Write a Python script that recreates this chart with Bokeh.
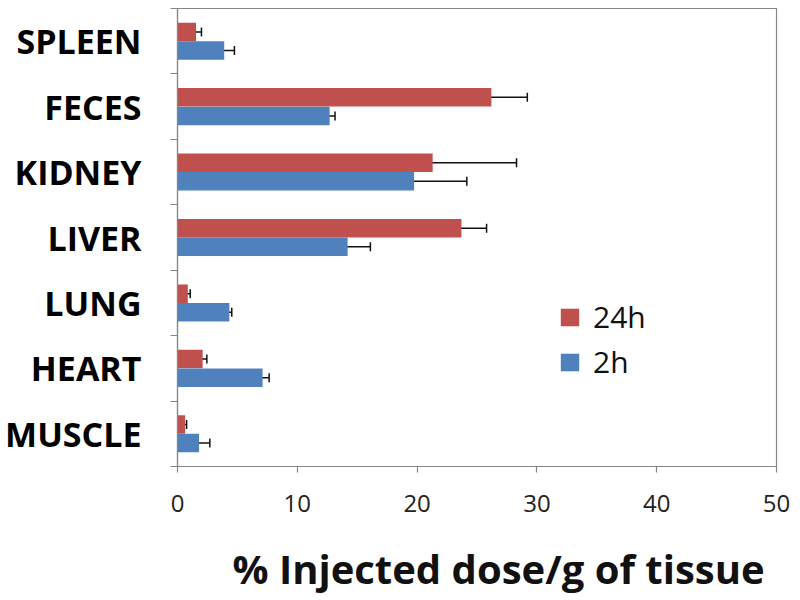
from bokeh.plotting import figure
from bokeh.models import (ColumnDataSource, Range1d, LinearAxis, FixedTicker, Whisker, TeeHead,
                          Legend, LegendItem, Title)
from bokeh.embed import file_html
from bokeh.resources import INLINE

organs = ["SPLEEN", "FECES", "KIDNEY", "LIVER", "LUNG", "HEART", "MUSCLE"]
h24 = [1.55, 26.2, 21.3, 23.7, 0.86, 2.1, 0.64]
h24_err = [0.45, 3.0, 7.0, 2.1, 0.2, 0.35, 0.12]
h2 = [3.9, 12.7, 19.75, 14.2, 4.33, 7.1, 1.8]
h2_err = [0.85, 0.45, 4.4, 1.9, 0.2, 0.55, 0.9]
x_ticks = [0, 10, 20, 30, 40, 50]
series_labels = ["24h", "2h"]
x_label = "% Injected dose/g of tissue"

RED = "#C0504D"
BLUE = "#4F81BD"
AX = "#868686"
FONT = "Open Sans"

n = len(organs)
off = 0.142
bh = 0.283
# category slot centres, first category at the top
pos = [n - 0.5 - i for i in range(n)]

src = ColumnDataSource(dict(
    organ=organs, h24=h24, h2=h2,
    y24=[c + off for c in pos], y2=[c - off for c in pos],
    h24_lo=[v - e for v, e in zip(h24, h24_err)], h24_hi=[v + e for v, e in zip(h24, h24_err)],
    h2_lo=[v - e for v, e in zip(h2, h2_err)], h2_hi=[v + e for v, e in zip(h2, h2_err)],
))

p = figure(width=800, height=600, output_backend="svg", toolbar_location=None,
           y_range=Range1d(0, n), x_range=Range1d(0, 50),
           x_axis_location=None, y_axis_location=None,
           min_border_left=177, min_border_right=24, min_border_top=8, min_border_bottom=134)
p.grid.visible = False
p.outline_line_color = AX
p.outline_line_width = 1.2

yaxis = LinearAxis(ticker=FixedTicker(ticks=pos, minor_ticks=list(range(n + 1))),
                   major_label_overrides={c: name for c, name in zip(pos, organs)},
                   axis_line_color=AX, axis_line_width=1.2,
                   major_tick_line_color=None, major_tick_out=0, major_tick_in=0,
                   minor_tick_line_color=AX, minor_tick_out=7, minor_tick_in=0, minor_tick_line_width=1.2,
                   major_label_standoff=29, major_label_text_font=FONT,
                   major_label_text_font_style="bold", major_label_text_font_size="34px",
                   major_label_text_color="#000000")
p.add_layout(yaxis, "left")

xaxis = LinearAxis(ticker=FixedTicker(ticks=x_ticks), axis_line_color=AX, axis_line_width=1.2,
                   major_tick_line_color=AX, major_tick_out=6, major_tick_in=0, major_tick_line_width=1.2,
                   minor_tick_line_color=None,
                   major_label_text_font=FONT, major_label_text_font_size="24px",
                   major_label_text_color="#222222", major_label_standoff=22)
p.add_layout(xaxis, "below")

# invisible spacer panel between tick labels and the axis title
spacer = LinearAxis(ticker=FixedTicker(ticks=[25]), major_label_overrides={25: ""},
                    axis_line_color=None, major_tick_line_color=None,
                    minor_tick_line_color=None, major_tick_out=24, major_tick_in=0, minor_tick_out=0,
                    major_label_standoff=0, major_label_text_font_size="0px")
p.add_layout(spacer, "below")

xtitle = Title(text=x_label, align="left", offset=55, standoff=0,
               text_font=FONT, text_font_style="bold", text_font_size="40px", text_color="#111111")
p.add_layout(xtitle, "below")

r24 = p.hbar(y="y24", left=0, right="h24", height=bh, fill_color=RED, line_color=None, source=src)
r2 = p.hbar(y="y2", left=0, right="h2", height=bh, fill_color=BLUE, line_color=None, source=src)

for lo, hi, base in (("h24_lo", "h24_hi", "y24"), ("h2_lo", "h2_hi", "y2")):
    w = Whisker(source=src, base=base, lower=lo, upper=hi,
                dimension="width", line_color="#111111", line_width=1.5,
                upper_head=TeeHead(size=9, line_color="#111111", line_width=1.5),
                lower_head=TeeHead(size=9, line_color="#111111", line_width=1.5))
    p.add_layout(w)

legend = Legend(items=[LegendItem(label=series_labels[0], renderers=[r24]),
                       LegendItem(label=series_labels[1], renderers=[r2])],
                location=(381, 84), orientation="vertical",
                label_text_font=FONT, label_text_font_size="30px", label_text_color="#111111",
                glyph_width=23, glyph_height=22, label_standoff=12, spacing=4,
                padding=0, margin=0, border_line_color=None, background_fill_alpha=0)
p.add_layout(legend, "center")

open("out.html", "w").write(file_html(p, INLINE))
